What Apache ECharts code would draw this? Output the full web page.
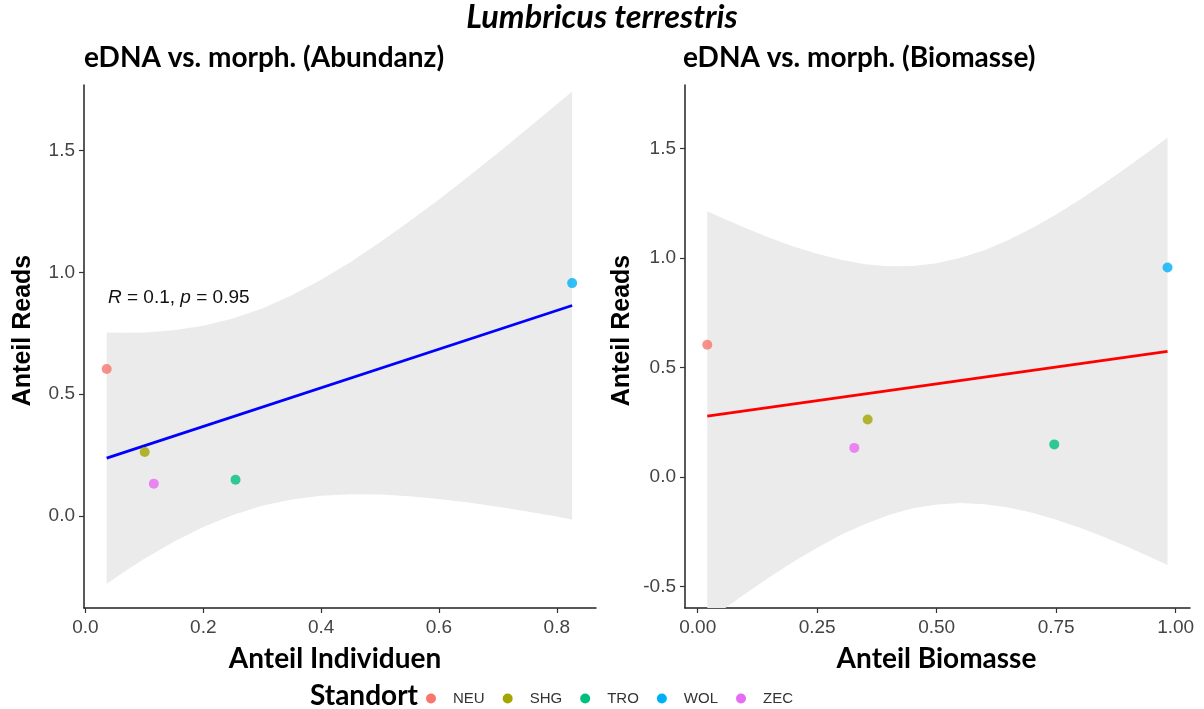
<!DOCTYPE html>
<html>
<head>
<meta charset="utf-8">
<script src="https://cdn.jsdelivr.net/npm/echarts@6/dist/echarts.min.js"></script>
<style>
html,body{margin:0;padding:0;background:#fff;}
#chart{width:1204px;height:709px;}
</style>
</head>
<body>
<div id="chart"></div>
<script>
// ---- data ----
const sites = ['NEU', 'SHG', 'TRO', 'WOL', 'ZEC'];
const siteColors = ['#F8766D', '#A3A500', '#00BF7D', '#00B0F6', '#E76BF3'];
const readsShare = [0.603, 0.262, 0.148, 0.956, 0.132];
const individualsShare = [0.036, 0.1005, 0.2547, 0.826, 0.116];
const biomassShare = [0.020, 0.3556, 0.746, 0.983, 0.3276];

// fitted regression lines
const abundFitX = [0.036, 0.826];
const abundFitY = [0.237, 0.864];
const biomFitX = [0.020, 0.983];
const biomFitY = [0.277, 0.573];

// confidence bands
const abundBandX  = [0.036, 0.065, 0.1, 0.15, 0.2, 0.25, 0.3, 0.35, 0.4, 0.45, 0.5, 0.55, 0.6, 0.65, 0.7, 0.75, 0.79, 0.826];
const abundBandLo = [-0.279, -0.231, -0.177, -0.107, -0.046, 0.003, 0.041, 0.067, 0.082, 0.088, 0.087, 0.080, 0.069, 0.055, 0.037, 0.018, 0.001, -0.015];
const abundBandHi = [0.753, 0.752, 0.753, 0.762, 0.781, 0.811, 0.852, 0.906, 0.970, 1.043, 1.124, 1.210, 1.300, 1.394, 1.491, 1.590, 1.670, 1.743];

const biomBandX  = [0.02, 0.05, 0.1, 0.15, 0.2, 0.25, 0.3, 0.35, 0.4, 0.45, 0.5, 0.55, 0.6, 0.65, 0.7, 0.75, 0.8, 0.85, 0.9, 0.95, 0.983];
const biomBandLo = [-0.660, -0.611, -0.533, -0.459, -0.388, -0.324, -0.265, -0.215, -0.174, -0.144, -0.126, -0.120, -0.125, -0.140, -0.164, -0.196, -0.233, -0.275, -0.321, -0.370, -0.403];
const biomBandHi = [1.213, 1.183, 1.136, 1.092, 1.052, 1.018, 0.991, 0.971, 0.961, 0.962, 0.975, 1.000, 1.035, 1.081, 1.136, 1.198, 1.266, 1.339, 1.416, 1.495, 1.549];

// axis ranges and ticks
const abundXRange = [-0.0025, 0.8665];
const abundXTicks = [0, 0.2, 0.4, 0.6, 0.8];
const abundYRange = [-0.379, 1.77];
const abundYTicks = [0, 0.5, 1.0, 1.5];
const biomXRange = [-0.0266, 1.030];
const biomXTicks = [0, 0.25, 0.5, 0.75, 1.0];
const biomYRange = [-0.599, 1.789];
const biomYTicks = [-0.5, 0, 0.5, 1.0, 1.5];

const corText = [{ r: '0.1', p: '0.95' }, { r: '0.3', p: '0.68' }];
const mainTitle = 'Lumbricus terrestris';
const panelTitles = ['eDNA vs. morph. (Abundanz)', 'eDNA vs. morph. (Biomasse)'];
const xNames = ['Anteil Individuen', 'Anteil Biomasse'];
const yName = 'Anteil Reads';
const legendTitle = 'Standort';

// ---- chart ----
const chart = echarts.init(document.getElementById('chart'), null, { renderer: 'canvas' });
const tickFont = '"Liberation Sans", Arial, sans-serif';
const boldFont = 'Lato, Carlito, "Open Sans", sans-serif';

function xAxisCfg(gi, range, ticks, dec, name, pad) {
  return {
    type: 'value', gridIndex: gi, min: range[0], max: range[1],
    name: name, nameLocation: 'middle', nameGap: 37,
    nameTextStyle: { fontFamily: boldFont, fontWeight: 'bold', fontSize: 28, color: '#000', padding: pad },
    axisLine: { show: true, onZero: false, lineStyle: { color: '#222', width: 1.5 } },
    axisTick: { show: true, customValues: ticks, length: 5, lineStyle: { color: '#333', width: 1.2 } },
    axisLabel: { customValues: ticks, margin: 10, fontFamily: tickFont, fontSize: 19, color: '#444',
      formatter: v => v.toFixed(dec) },
    splitLine: { show: false }
  };
}
function yAxisCfg(gi, range, ticks, gap) {
  return {
    type: 'value', gridIndex: gi, min: range[0], max: range[1],
    name: yName, nameLocation: 'middle', nameGap: gap,
    nameTextStyle: { fontFamily: tickFont, fontWeight: 'bold', fontSize: 25, color: '#000', padding: [0, 0, 0, 32] },
    axisLine: { show: true, onZero: false, lineStyle: { color: '#222', width: 1.5 } },
    axisTick: { show: true, customValues: ticks, length: 5, lineStyle: { color: '#333', width: 1.2 } },
    axisLabel: { customValues: ticks, margin: 9, fontFamily: tickFont, fontSize: 19, color: '#444',
      formatter: v => v.toFixed(1) },
    splitLine: { show: false }
  };
}

function bandSeries(gi, xs, lo, hi) {
  return {
    type: 'custom', xAxisIndex: gi, yAxisIndex: gi, clip: true, silent: true, z: 1,
    data: xs.map((x, i) => [x, lo[i], hi[i]]),
    renderItem: function (params, api) {
      if (params.dataIndex !== 0) return;
      const pts = [];
      for (let i = 0; i < xs.length; i++) pts.push(api.coord([xs[i], hi[i]]));
      for (let i = xs.length - 1; i >= 0; i--) pts.push(api.coord([xs[i], lo[i]]));
      return { type: 'polygon', shape: { points: pts }, style: { fill: '#EBEBEB', stroke: null } };
    }
  };
}
function fitSeries(gi, xs, ys, color) {
  return {
    type: 'line', xAxisIndex: gi, yAxisIndex: gi, showSymbol: false, silent: true, z: 2,
    data: xs.map((x, i) => [x, ys[i]]),
    lineStyle: { color: color, width: 2.8 }
  };
}
const series = [
  bandSeries(0, abundBandX, abundBandLo, abundBandHi),
  bandSeries(1, biomBandX, biomBandLo, biomBandHi),
  fitSeries(0, abundFitX, abundFitY, '#0000FF'),
  fitSeries(1, biomFitX, biomFitY, '#FF0000')
];
[individualsShare, biomassShare].forEach((xs, gi) => {
  sites.forEach((s, i) => {
    series.push({
      name: s, type: 'scatter', xAxisIndex: gi, yAxisIndex: gi, z: 3,
      symbol: 'circle', symbolSize: 10,
      itemStyle: { color: siteColors[i], opacity: 0.8 },
      data: [[xs[i], readsShare[i]]]
    });
  });
});

const option = {
  animation: false,
  backgroundColor: '#fff',
  title: [
    { text: mainTitle, left: 'center', top: 1, padding: 0,
      textStyle: { fontFamily: boldFont, fontWeight: 'bold', fontStyle: 'italic', fontSize: 32.5, color: '#000' } },
    { text: panelTitles[0], left: 84, top: 44, padding: 0,
      textStyle: { fontFamily: boldFont, fontWeight: 'bold', fontSize: 28, color: '#000' } },
    { text: panelTitles[1], left: 683, top: 44, padding: 0,
      textStyle: { fontFamily: boldFont, fontWeight: 'bold', fontSize: 28, color: '#000' } },
    { text: legendTitle, left: 310, top: 682, padding: 0,
      textStyle: { fontFamily: boldFont, fontWeight: 'bold', fontSize: 28, color: '#000' } }
  ],
  grid: [
    { left: 84, right: 608, top: 85, bottom: 101, containLabel: false },
    { left: 685, right: 14, top: 85, bottom: 101, containLabel: false }
  ],
  xAxis: [
    xAxisCfg(0, abundXRange, abundXTicks, 1, xNames[0], [0, 10, 0, 0]),
    xAxisCfg(1, biomXRange, biomXTicks, 2, xNames[1], [0, 2, 0, 0])
  ],
  yAxis: [
    yAxisCfg(0, abundYRange, abundYTicks, 48),
    yAxisCfg(1, biomYRange, biomYTicks, 50)
  ],
  legend: {
    data: sites, left: 421, top: 686, orient: 'horizontal',
    icon: 'circle', itemWidth: 10, itemHeight: 10, itemGap: 18,
    itemStyle: { opacity: 1 },
    textStyle: { fontFamily: tickFont, fontSize: 15, color: '#333', padding: [0, 0, 0, 12] },
    selectedMode: false
  },
  graphic: [
    { type: 'text', left: 108, top: 288, silent: true,
      style: { text: '{i|R} = ' + corText[0].r + ', {i|p} = ' + corText[0].p,
        font: '19px ' + tickFont, fill: '#111',
        rich: { i: { fontStyle: 'italic', fontSize: 19, fontFamily: tickFont, fill: '#111' } } } },
    { type: 'text', left: 709, top: 273, silent: true,
      style: { text: '{i|R} = ' + corText[1].r + ', {i|p} = ' + corText[1].p,
        font: '19px ' + tickFont, fill: '#111',
        rich: { i: { fontStyle: 'italic', fontSize: 19, fontFamily: tickFont, fill: '#111' } } } }
  ],
  series: series
};
chart.setOption(option);
</script>
</body>
</html>
